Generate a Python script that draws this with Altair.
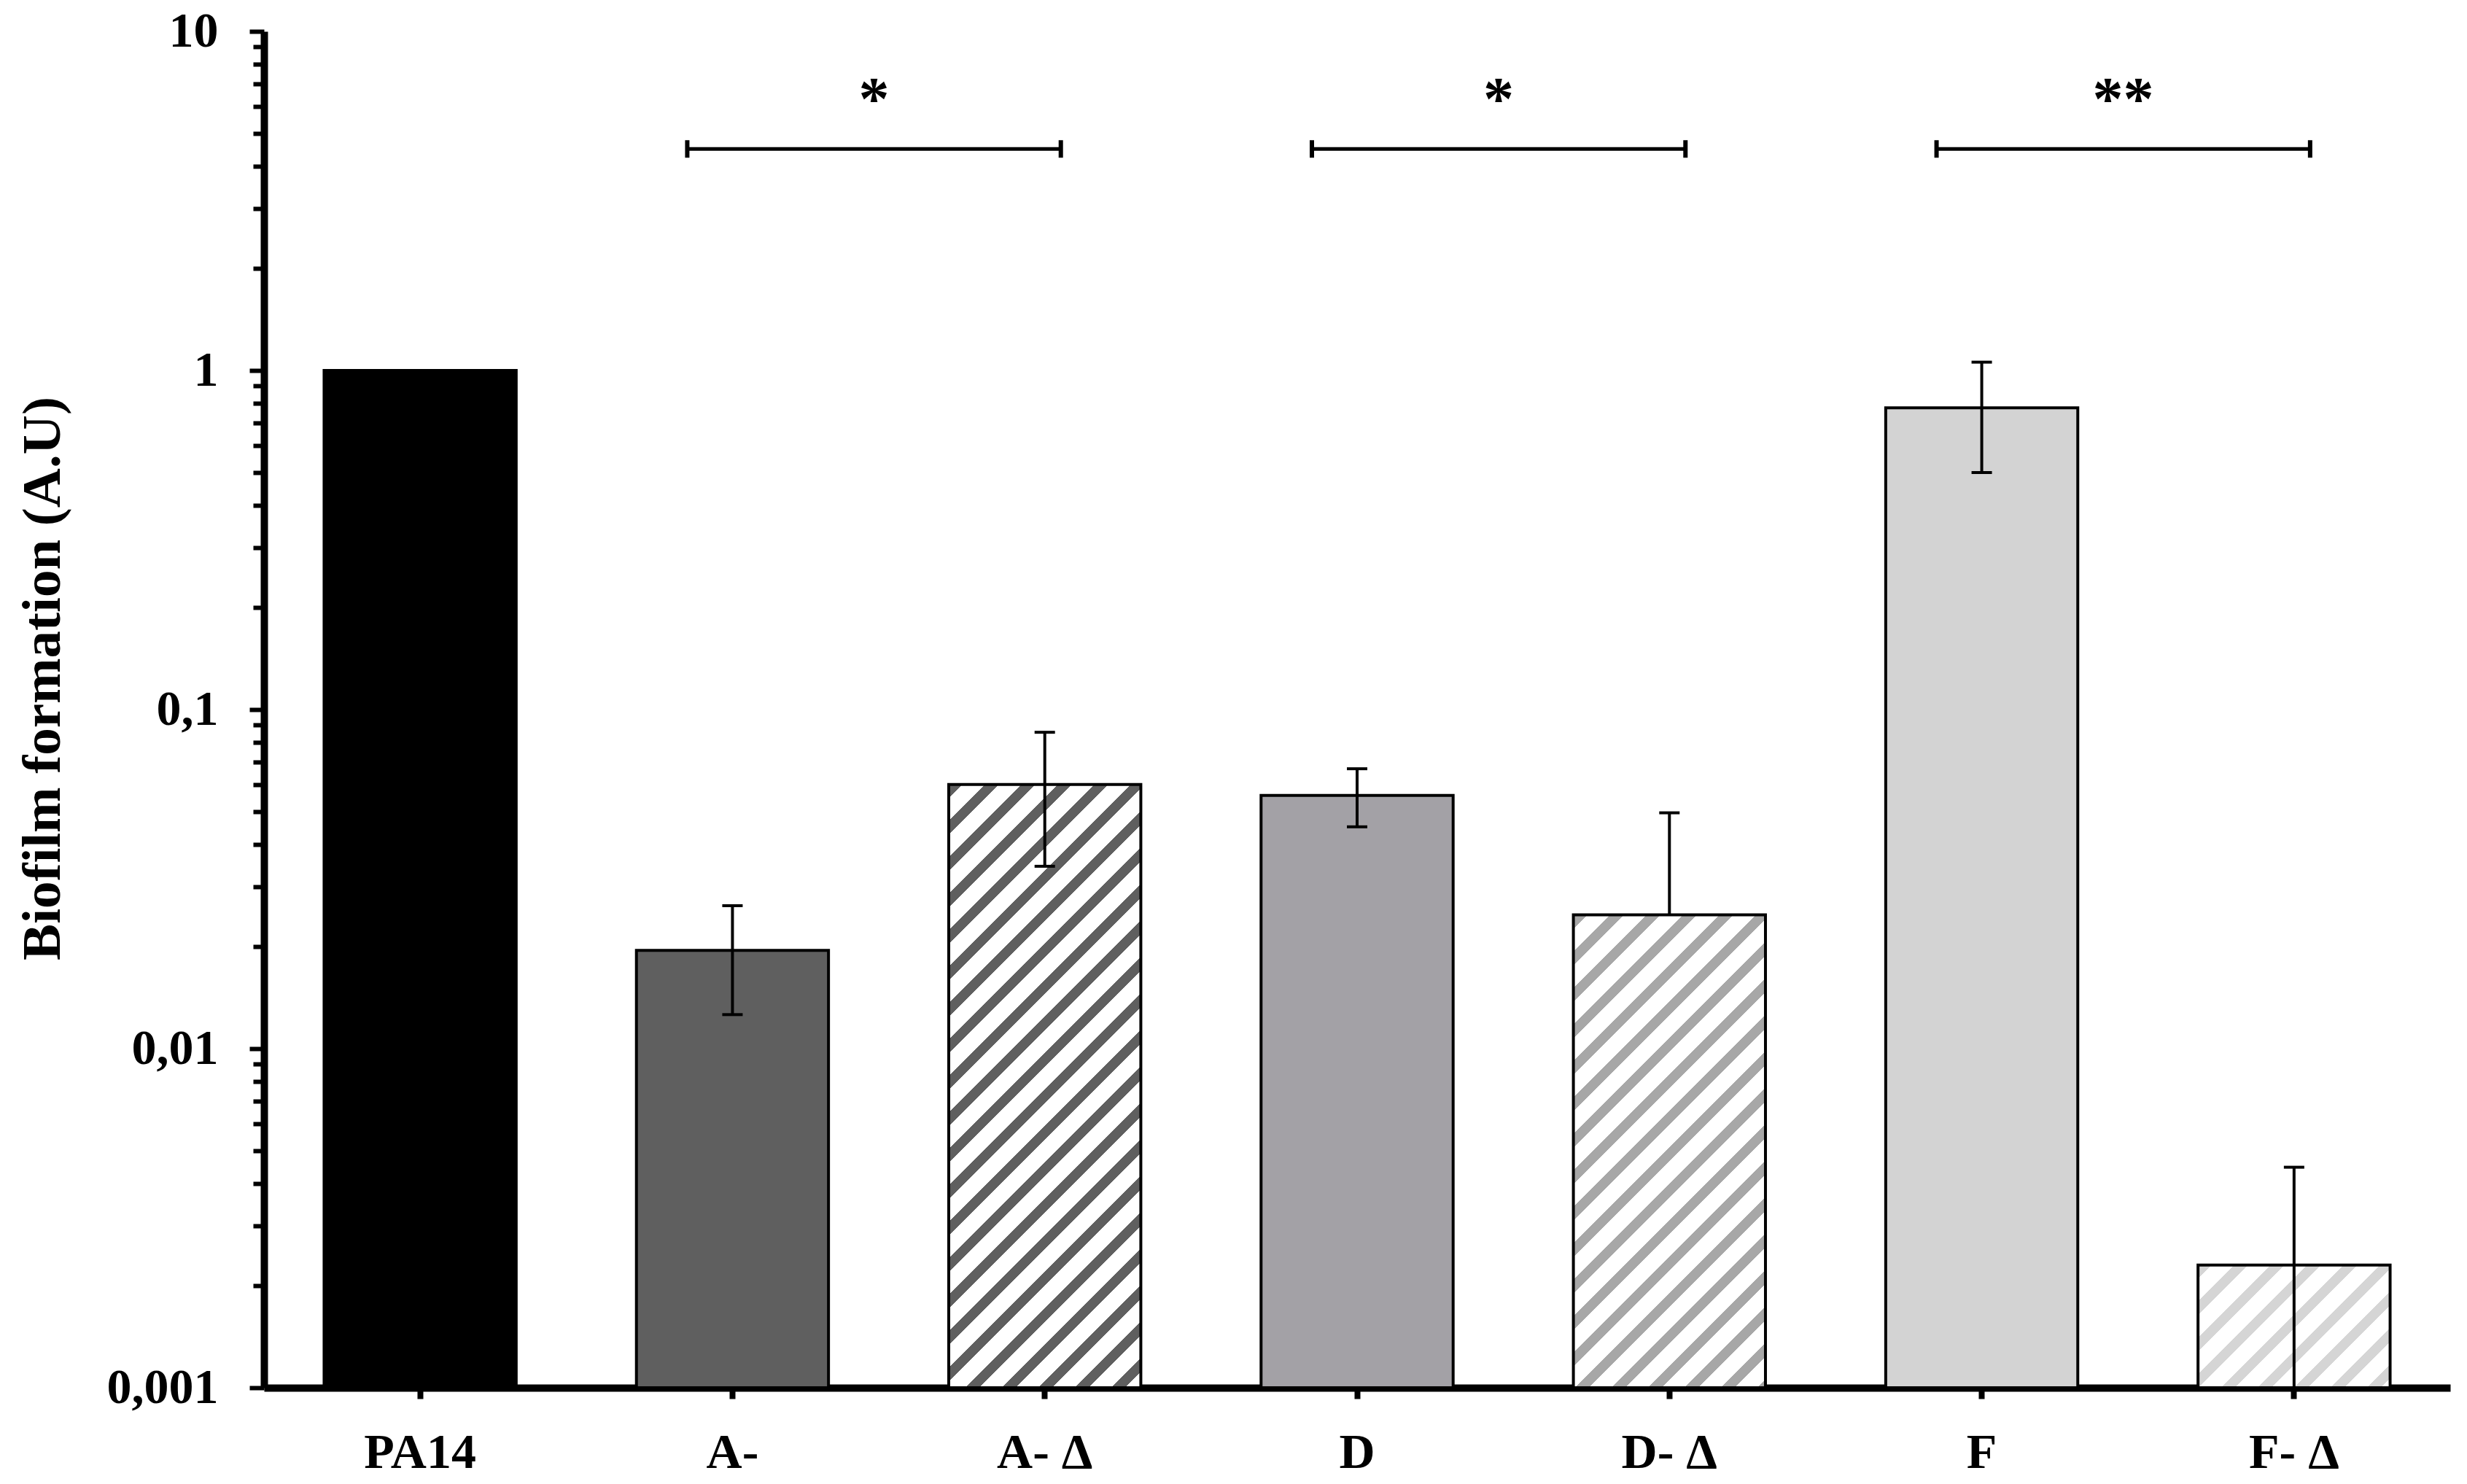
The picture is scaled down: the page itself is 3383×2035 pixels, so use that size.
import math
import altair as alt
import pandas as pd

# ---------------- data ----------------
categories = ["PA14", "A-", "A- Δ", "D", "D- Δ", "F", "F- Δ"]
values     = [1.0, 0.0195, 0.0601, 0.0558, 0.0248, 0.776, 0.0023]
err_low    = [None, 0.0126, 0.0345, 0.0451, 0.0248, 0.50, 0.001]
err_high   = [None, 0.0264, 0.0857, 0.0669, 0.0496, 1.058, 0.00447]
bar_colors = ["#000000", "#5f5f5f", "#5f5f5f", "#a3a1a6", "#a7a7a7", "#d3d3d3", "#d5d5d5"]
hatched    = [False, False, True, False, True, False, True]

pairs_left  = ["A-", "D", "F"]
pairs_right = ["A- Δ", "D- Δ", "F- Δ"]
sig_labels  = ["*", "*", "**"]
bracket_level = 4.5
star_level = 5.5

y_ticks = [m * 10.0 ** e for e in range(-3, 1) for m in range(1, 10)] + [10.0]

# ---------------- layout ----------------
W, H = 2998, 1860
Y_MIN, Y_MAX = 0.001, 10
P_IN, P_OUT = 0.385, 0.1925
FONT = "Liberation Serif"

bandwidth = W / (len(categories) - P_IN + 2 * P_OUT) * (1 - P_IN)


def bar_height(v):
    return H * (math.log10(v) - math.log10(Y_MIN)) / (math.log10(Y_MAX) - math.log10(Y_MIN))


def stripe_fill(color, w, h, period=50.0, frac=0.38):
    L = w + h
    k = L / (w * w + h * h)
    stops = []
    i = 0
    while i * period < L:
        a = i * period / L
        b = min((i * period + frac * period) / L, 1.0)
        c = min((i + 1) * period / L, 1.0)
        stops += [
            {"offset": a, "color": color},
            {"offset": b, "color": color},
            {"offset": b, "color": "#ffffff"},
            {"offset": c, "color": "#ffffff"},
        ]
        i += 1
    return {"gradient": "linear", "x1": 0, "y1": 0, "x2": w * k, "y2": h * k, "stops": stops}


xscale = alt.Scale(domain=categories, paddingInner=P_IN, paddingOuter=P_OUT)
yscale = alt.Scale(type="log", domain=[Y_MIN, Y_MAX], nice=False)

is_major = "abs(log(datum.value)/LN10 - round(log(datum.value)/LN10)) < 0.001"

xaxis = alt.Axis(
    title=None, labelAngle=0, labelFont=FONT, labelFontWeight="bold", labelFontSize=68,
    labelColor="black", labelPadding=40, tickSize=15, tickWidth=8, tickColor="black",
    domainWidth=10, domainColor="black", grid=False, labelOverlap=False,
)
yaxis = alt.Axis(
    title="Biofilm formation (A.U)", values=y_ticks,
    labelExpr=f"{is_major} ? replace(format(datum.value, '~g'), '.', ',') : ''",
    labelFont=FONT, labelFontWeight="bold", labelFontSize=68, labelColor="black",
    labelPadding=43, labelOverlap=False,
    tickSize={"condition": {"test": is_major, "value": 20}, "value": 15},
    tickWidth=6, tickColor="black", domainWidth=10, domainColor="black", grid=False,
    titleFont=FONT, titleFontWeight="bold", titleFontSize=75, titleColor="black",
    titleX=-304, titleY=887, titleAngle=-90, titleAlign="center", titleBaseline="middle",
)

df = pd.DataFrame({"cat": categories, "value": values, "lo": err_low, "hi": err_high})

layers = []
for i, c in enumerate(categories):
    if hatched[i]:
        fill = stripe_fill(bar_colors[i], bandwidth, bar_height(values[i]))
    else:
        fill = bar_colors[i]
    layers.append(
        alt.Chart(df[df["cat"] == c]).mark_bar(fill=fill, stroke="black", strokeWidth=4).encode(
            x=alt.X("cat:N", scale=xscale, axis=xaxis),
            y=alt.Y("value:Q", scale=yscale, axis=yaxis),
            y2=alt.datum(Y_MIN),
        )
    )

err_df = df.dropna(subset=["hi"])
layers.append(
    alt.Chart(err_df).mark_rule(color="black", strokeWidth=4).encode(
        x=alt.X("cat:N", scale=xscale, axis=xaxis),
        y=alt.Y("lo:Q", scale=yscale, axis=yaxis),
        y2="hi:Q",
    )
)
layers.append(
    alt.Chart(err_df).mark_point(shape="M-1,0L1,0", size=784, filled=False, color="black",
                                 strokeWidth=4, opacity=1).encode(
        x=alt.X("cat:N", scale=xscale, axis=xaxis),
        y=alt.Y("hi:Q", scale=yscale, axis=yaxis),
    )
)
low_caps = err_df[(err_df["lo"] < err_df["value"]) & (err_df["lo"] > Y_MIN)]
layers.append(
    alt.Chart(low_caps).mark_point(shape="M-1,0L1,0", size=784, filled=False, color="black",
                                   strokeWidth=4, opacity=1).encode(
        x=alt.X("cat:N", scale=xscale, axis=xaxis),
        y=alt.Y("lo:Q", scale=yscale, axis=yaxis),
    )
)

sig_df = pd.DataFrame({"left": pairs_left, "right": pairs_right, "label": sig_labels,
                       "yb": [bracket_level] * 3, "ys": [star_level] * 3})
layers.append(
    alt.Chart(sig_df).mark_rule(color="black", strokeWidth=5, xOffset=-62, x2Offset=22).encode(
        x=alt.X("left:N", scale=xscale, axis=xaxis),
        x2="right:N",
        y=alt.Y("yb:Q", scale=yscale, axis=yaxis),
    )
)
layers.append(
    alt.Chart(sig_df).mark_point(shape="M0,-1L0,1", size=576, filled=False, color="black",
                                 strokeWidth=6, opacity=1, xOffset=-62).encode(
        x=alt.X("left:N", scale=xscale, axis=xaxis),
        y=alt.Y("yb:Q", scale=yscale, axis=yaxis),
    )
)
layers.append(
    alt.Chart(sig_df).mark_point(shape="M0,-1L0,1", size=576, filled=False, color="black",
                                 strokeWidth=6, opacity=1, xOffset=22).encode(
        x=alt.X("right:N", scale=xscale, axis=xaxis),
        y=alt.Y("yb:Q", scale=yscale, axis=yaxis),
    )
)
layers.append(
    alt.Chart(sig_df).mark_text(font=FONT, fontWeight="bold", fontSize=84, color="black",
                                baseline="alphabetic", align="center", xOffset=194).encode(
        x=alt.X("left:N", scale=xscale, axis=xaxis),
        y=alt.Y("ys:Q", scale=yscale, axis=yaxis),
        text="label:N",
    )
)

chart = alt.layer(*layers).properties(
    width=W, height=H,
    autosize=alt.AutoSizeParams(type="none"),
    padding={"left": 354, "top": 35, "right": 15, "bottom": 132},
    background="white",
).configure_view(stroke=None)

chart.save("out.html", embed_options={"renderer": "svg", "actions": False})
